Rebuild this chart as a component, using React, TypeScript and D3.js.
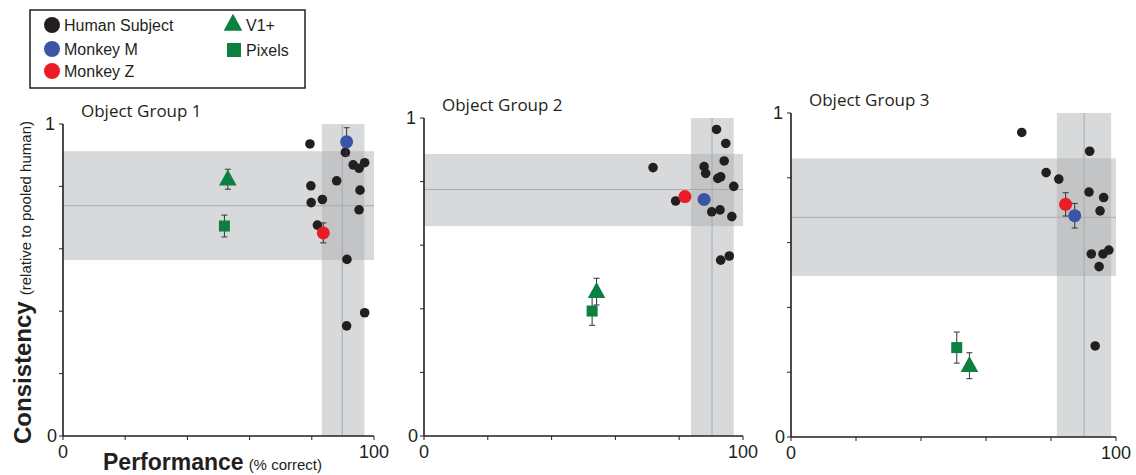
import * as d3 from "d3";

// values
const groupTitles = ["Object Group 1", "Object Group 2", "Object Group 3"];

const humanPerf1 = [79.4, 90.8, 93.3, 95.2, 97.0, 88.0, 79.7, 95.5, 83.4, 79.8, 95.2, 81.8, 91.3, 97.0, 91.2];
const humanCons1 = [0.936, 0.909, 0.869, 0.858, 0.876, 0.818, 0.802, 0.788, 0.758, 0.748, 0.725, 0.676, 0.566, 0.395, 0.353];
const humanPerf2 = [91.7, 94.6, 94.1, 71.8, 87.8, 88.3, 92.1, 93.0, 97.1, 78.9, 90.2, 92.8, 96.5, 93.0, 95.7];
const humanCons2 = [0.964, 0.92, 0.865, 0.844, 0.847, 0.826, 0.81, 0.815, 0.785, 0.739, 0.705, 0.711, 0.69, 0.553, 0.566];
const humanPerf3 = [71.0, 91.9, 78.5, 82.4, 91.7, 96.2, 95.1, 92.4, 96.0, 97.8, 94.8, 93.6];
const humanCons3 = [0.94, 0.882, 0.816, 0.796, 0.756, 0.739, 0.698, 0.565, 0.565, 0.577, 0.526, 0.281];

const humanPerfBand = [[83.2, 96.9], [83.7, 97.1], [81.8, 98.5]];
const humanPerfMedian = [89.8, 90.3, 90.2];
const humanConsBand = [[0.564, 0.913], [0.66, 0.887], [0.497, 0.86]];
const humanConsMedian = [0.738, 0.775, 0.678];

const monkeyMPerf = [91.2, 87.8, 87.3];
const monkeyMCons = [0.943, 0.744, 0.683];
const monkeyMErr = [0.045, 0, 0.038];
const monkeyZPerf = [83.7, 81.8, 84.5];
const monkeyZCons = [0.651, 0.753, 0.718];
const monkeyZErr = [0.032, 0, 0.036];
const v1Perf = [53.0, 54.1, 54.9];
const v1Cons = [0.823, 0.454, 0.22];
const v1Err = [0.032, 0.042, 0.04];
const pixPerf = [51.9, 52.7, 51.0];
const pixCons = [0.673, 0.393, 0.276];
const pixErr = [0.035, 0.045, 0.048];

const humanSets = [
  [humanPerf1, humanCons1],
  [humanPerf2, humanCons2],
  [humanPerf3, humanCons3],
];

// panel boxes in page px
const panels = [
  { left: 63, top: 124, w: 311, h: 312 },
  { left: 424, top: 118, w: 319, h: 318 },
  { left: 791, top: 113, w: 325, h: 324 },
];

const BLACK = "#231f20";
const BLUE = "#3b54a5";
const RED = "#ec1c24";
const GREEN = "#0b8040";
const BAND = "#a8aaad";
const FONT = "'Liberation Sans', Arial, sans-serif";

const ErrBar = ({ x, y0, y1 }) => (
  <g stroke="#333" strokeWidth={1}>
    <line x1={x} x2={x} y1={y0} y2={y1} />
    <line x1={x - 3} x2={x + 3} y1={y0} y2={y0} />
    <line x1={x - 3} x2={x + 3} y1={y1} y2={y1} />
  </g>
);

const triPath = (cx, cy, s) =>
  `M${cx},${cy - s * 0.6}L${cx + s * 0.55},${cy + s * 0.4}L${cx - s * 0.55},${cy + s * 0.4}Z`;

const Panel = ({ i }) => {
  const p = panels[i];
  const x = d3.scaleLinear().domain([0, 100]).range([p.left, p.left + p.w]);
  const y = d3.scaleLinear().domain([0, 1]).range([p.top + p.h, p.top]);
  const [hp, hc] = humanSets[i];
  const ticksY = d3.range(0, 1.0001, 0.2);
  const ticksX = d3.range(0, 100.001, 20);
  const err = (px, py, e) =>
    e > 0 ? <ErrBar x={x(px)} y0={y(py - e)} y1={y(py + e)} /> : null;

  return (
    <g>
      <text x={x(0) + 18} y={p.top - 7} fontSize={17} fill={BLACK} fontFamily="'Open Sans', sans-serif">
        {groupTitles[i]}
      </text>
      {/* human spread bands */}
      <rect
        x={x(0)}
        width={x(100) - x(0)}
        y={y(humanConsBand[i][1])}
        height={y(humanConsBand[i][0]) - y(humanConsBand[i][1])}
        fill={BAND}
        fillOpacity={0.45}
      />
      <rect
        x={x(humanPerfBand[i][0])}
        width={x(humanPerfBand[i][1]) - x(humanPerfBand[i][0])}
        y={y(1)}
        height={y(0) - y(1)}
        fill={BAND}
        fillOpacity={0.45}
      />
      <line x1={x(0)} x2={x(100)} y1={y(humanConsMedian[i])} y2={y(humanConsMedian[i])} stroke="#a9abae" strokeWidth={1} />
      <line x1={x(humanPerfMedian[i])} x2={x(humanPerfMedian[i])} y1={y(1)} y2={y(0)} stroke="#a9abae" strokeWidth={1} />

      {/* axes */}
      <line x1={x(0)} x2={x(0)} y1={y(0)} y2={y(1)} stroke={BLACK} strokeWidth={1.6} />
      <line x1={x(0)} x2={x(100)} y1={y(0)} y2={y(0)} stroke={BLACK} strokeWidth={1.6} />
      {ticksY.map((t) => (
        <line key={"y" + t} x1={x(0) - 4} x2={x(0)} y1={y(t)} y2={y(t)} stroke={BLACK} strokeWidth={1} />
      ))}
      {ticksX.map((t) => (
        <line key={"x" + t} x1={x(t)} x2={x(t)} y1={y(0)} y2={y(0) + 4} stroke={BLACK} strokeWidth={1} />
      ))}
      <g fontSize={18} fill={BLACK} fontFamily={FONT}>
        <text x={x(0) - 8} y={y(1) + 6} textAnchor="end">1</text>
        <text x={x(0) - 6} y={y(0) + 6} textAnchor="end">0</text>
        <text x={x(0)} y={y(0) + 22} textAnchor="middle">0</text>
        <text x={x(100)} y={y(0) + 22} textAnchor="middle">100</text>
      </g>

      {/* humans */}
      {hp.map((v, k) => (
        <circle key={k} cx={x(v)} cy={y(hc[k])} r={4.8} fill={BLACK} />
      ))}

      {/* models */}
      {err(pixPerf[i], pixCons[i], pixErr[i])}
      <rect x={x(pixPerf[i]) - 5.5} y={y(pixCons[i]) - 5.5} width={11} height={11} fill={GREEN} />
      {err(v1Perf[i], v1Cons[i], v1Err[i])}
      <path d={triPath(x(v1Perf[i]), y(v1Cons[i]), 16)} fill={GREEN} />

      {/* monkeys */}
      {err(monkeyZPerf[i], monkeyZCons[i], monkeyZErr[i])}
      <circle cx={x(monkeyZPerf[i])} cy={y(monkeyZCons[i])} r={6.5} fill={RED} />
      {err(monkeyMPerf[i], monkeyMCons[i], monkeyMErr[i])}
      <circle cx={x(monkeyMPerf[i])} cy={y(monkeyMCons[i])} r={6.5} fill={BLUE} />
    </g>
  );
};

const Legend = () => (
  <g fontFamily={FONT} fontSize={16} fill={BLACK}>
    <rect x={30} y={10} width={275} height={78} fill="white" stroke={BLACK} strokeWidth={1.5} />
    <circle cx={52} cy={25} r={8} fill={BLACK} />
    <text x={64} y={31}>Human Subject</text>
    <circle cx={52} cy={49} r={8} fill={BLUE} />
    <text x={64} y={55}>Monkey M</text>
    <circle cx={52} cy={71} r={8} fill={RED} />
    <text x={64} y={77}>Monkey Z</text>
    <path d={triPath(233, 24, 17)} fill={GREEN} />
    <text x={246} y={31}>V1+</text>
    <rect x={227} y={43} width={14} height={14} fill={GREEN} />
    <text x={246} y={56}>Pixels</text>
  </g>
);

export default function App() {
  return (
    <svg
      width={1136}
      height={475}
      style={{ position: "absolute", left: 0, top: 0, background: "white" }}
    >
      <Legend />
      {panels.map((_, i) => (
        <Panel key={i} i={i} />
      ))}
      <text transform="translate(31,444) rotate(-90)" fontFamily={FONT} fill={BLACK}>
        <tspan fontSize={24} fontWeight="bold">Consistency</tspan>
        <tspan fontSize={15} dx={6}>(relative to pooled human)</tspan>
      </text>
      <text x={103} y={470} fontFamily={FONT} fill={BLACK}>
        <tspan fontSize={23} fontWeight="bold">Performance</tspan>
        <tspan fontSize={15} dx={5}>(% correct)</tspan>
      </text>
    </svg>
  );
}
